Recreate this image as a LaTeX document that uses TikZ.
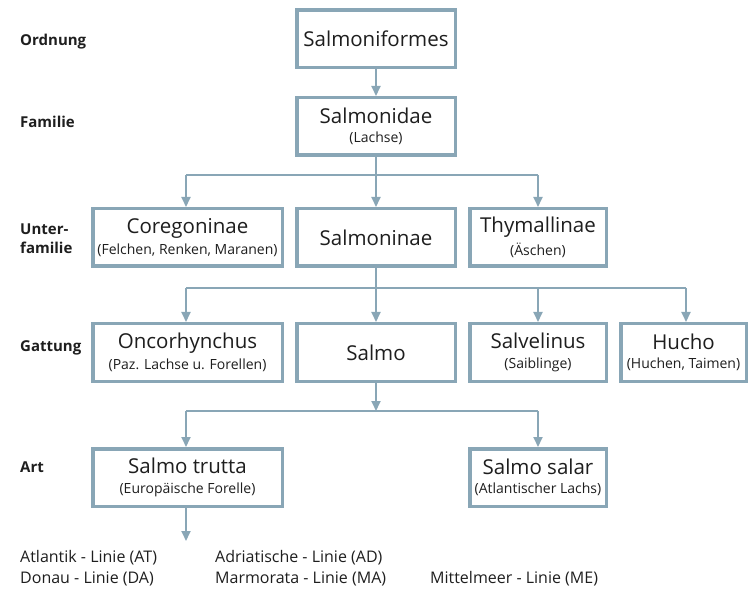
\documentclass[tikz,border=0pt]{standalone}
\usepackage{fontspec}
\setmainfont{Open Sans}
\usetikzlibrary{arrows.meta}
\definecolor{boxc}{RGB}{137,166,182}
\definecolor{txt}{RGB}{30,30,30}
\tikzset{
  taxbox/.style={draw=boxc, line width=3.5pt, fill=white, inner sep=0pt, align=center, text=txt, minimum height=57.5pt, font=\fontsize{14}{15}\selectfont},
  conn/.style={draw=boxc, line width=1.8pt},
  arr/.style={conn, -{Triangle[width=9pt,length=10pt]}},
  rank/.style={anchor=west, font=\fontsize{15}{17}\selectfont\bfseries, text=txt, align=left, inner sep=0pt},
  line/.style={anchor=west, font=\fontsize{16}{18}\selectfont, text=txt, inner sep=0pt},
}
\newcommand{\mainT}[1]{{\fontsize{20.5}{24}\selectfont #1}}
\newcommand{\subT}[1]{#1}
\begin{document}
\begin{tikzpicture}[x=1pt,y=-1pt]
\useasboundingbox (0,0) rectangle (749,593);
% ranks
\node[rank] (r1) at (20,42) {Ordnung};
\node[rank] (r2) at (20,122) {Familie};
\node[rank] (r3) at (20,239) {Unter-\\[2pt]familie};
\node[rank] (r4) at (20,348) {Gattung};
\node[rank] (r5) at (20,467) {Art};
% boxes
\node[taxbox, minimum width=158.5pt] (sf) at (376,39) {\mainT{Salmoniformes}};
\node[taxbox, minimum width=158.5pt] (sd) at (376,126.5) {\mainT{Salmonidae}\\[4.5pt]\subT{(Lachse)}};
\node[taxbox, minimum width=189.5pt] (cor) at (187.5,237.5) {\mainT{Coregoninae}\\[4.5pt]\subT{(Felchen, Renken, Maranen)}};
\node[taxbox, minimum width=158.5pt] (sn) at (376,237.5) {\mainT{Salmoninae}};
\node[taxbox, minimum width=136.5pt] (thy) at (538,237.5) {\mainT{Thymallinae}\\[4.5pt]\subT{(Äschen)}};
\node[taxbox, minimum width=189.5pt] (onc) at (187.5,352.5) {\mainT{Oncorhynchus}\\[4.5pt]\subT{(Paz. Lachse u. Forellen)}};
\node[taxbox, minimum width=158.5pt] (sal) at (376,352.5) {\mainT{Salmo}};
\node[taxbox, minimum width=136.5pt] (slv) at (538,352.5) {\mainT{Salvelinus}\\[4.5pt]\subT{(Saiblinge)}};
\node[taxbox, minimum width=125.5pt] (huc) at (683.5,352.5) {\mainT{Hucho}\\[4.5pt]\subT{(Huchen, Taimen)}};
\node[taxbox, minimum width=189.5pt] (tru) at (187.5,477.5) {\mainT{Salmo trutta}\\[4.5pt]\subT{(Europäische Forelle)}};
\node[taxbox, minimum width=136.5pt] (sls) at (538,477.5) {\mainT{Salmo salar}\\[4.5pt]\subT{(Atlantischer Lachs)}};
% bars
\coordinate (b1l) at (186,175); \coordinate (b1r) at (538,175);
\coordinate (b2l) at (186,288); \coordinate (b2r) at (686,288); \coordinate (b2m) at (538,288);
\coordinate (b3l) at (186,411); \coordinate (b3r) at (538,411); \coordinate (b3m) at (376,411);
\coordinate (endT) at (186,541);
% connectors
\draw[arr] (sf.south) -- (sd.north);
\draw[conn] (b1l) -- (b1r);
\draw[arr] (sd.south) -- (sn.north);
\draw[arr] (b1l) -- (b1l |- cor.north);
\draw[arr] (b1r) -- (b1r |- thy.north);
\draw[conn] (b2l) -- (b2r);
\draw[arr] (sn.south) -- (sal.north);
\draw[arr] (b2l) -- (b2l |- onc.north);
\draw[arr] (b2m) -- (b2m |- slv.north);
\draw[arr] (b2r) -- (b2r |- huc.north);
\draw[conn] (b3l) -- (b3r);
\draw[arr] (sal.south) -- (b3m);
\draw[arr] (b3l) -- (b3l |- tru.north);
\draw[arr] (b3r) -- (b3r |- sls.north);
\draw[arr] (tru.south -| endT) -- (endT);
% lines
\node[line] (l1) at (20,558) {Atlantik - Linie (AT)};
\node[line] (l2) at (20,579) {Donau - Linie (DA)};
\node[line] (l3) at (215,558) {Adriatische - Linie (AD)};
\node[line] (l4) at (215,579) {Marmorata - Linie (MA)};
\node[line] (l5) at (430,579) {Mittelmeer - Linie (ME)};
\end{tikzpicture}
\end{document}
